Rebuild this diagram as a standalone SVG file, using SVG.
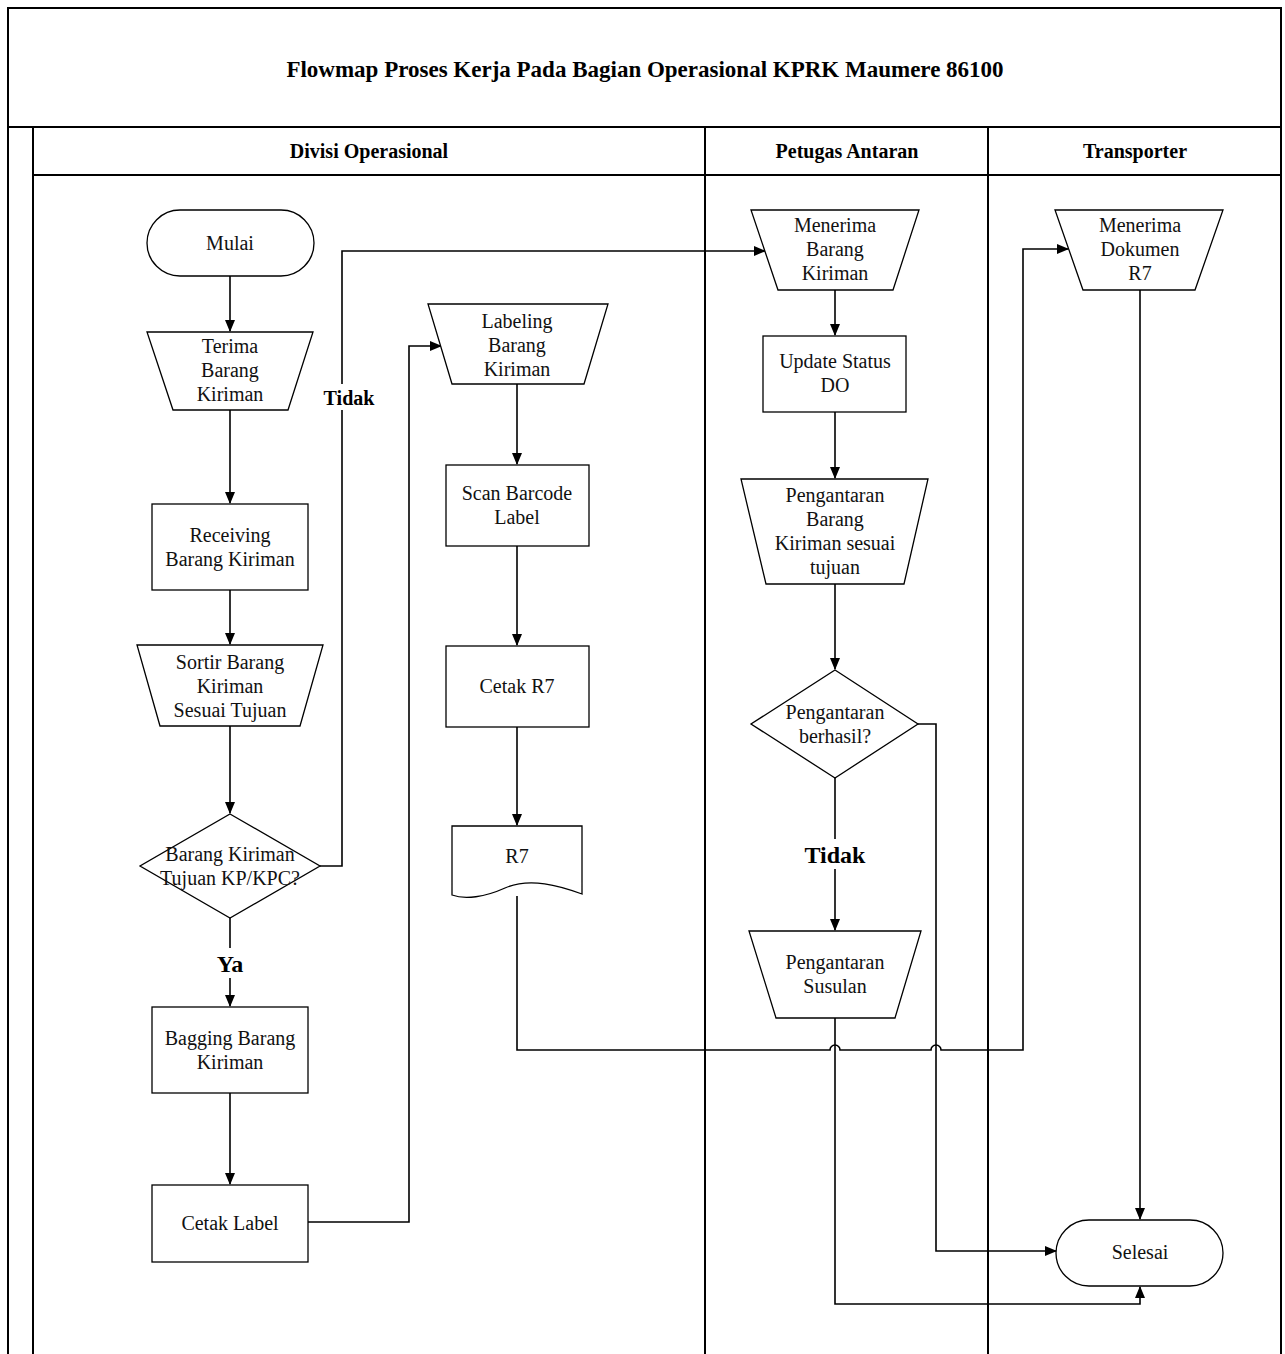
<svg xmlns="http://www.w3.org/2000/svg" width="1285" height="1354" viewBox="0 0 1285 1354">
<defs>
<marker id="arr" markerWidth="12" markerHeight="10" refX="11" refY="5" orient="auto" markerUnits="userSpaceOnUse">
<path d="M0,0 L12,5 L0,10 Z" fill="#000"/>
</marker>
<style>
.frame{fill:none;stroke:#000;stroke-width:2}
.shape{fill:#fff;stroke:#000;stroke-width:1.3}
.t{font-family:"Liberation Serif","Times New Roman",serif;font-size:20px;fill:#111;text-anchor:middle}
.b{font-family:"Liberation Serif","Times New Roman",serif;font-weight:bold;fill:#000;text-anchor:middle}
.c{fill:none;stroke:#000;stroke-width:1.6}
.bg{fill:#fff;stroke:none}
</style>
</defs>
<rect width="1285" height="1354" fill="#fff"/>
<g id="pool">
<path class="frame" d="M8,1360 V8 H1281 V1360"/>
<line class="frame" x1="8" y1="127" x2="1281" y2="127"/>
<line class="frame" x1="33" y1="127" x2="33" y2="1360"/>
<line class="frame" x1="33" y1="175" x2="1281" y2="175" stroke-width="1.5"/>
<line class="frame" x1="705" y1="127" x2="705" y2="1360"/>
<line class="frame" x1="988" y1="127" x2="988" y2="1360"/>
<text class="b" x="645" y="77" font-size="23">Flowmap Proses Kerja Pada Bagian Operasional KPRK Maumere 86100</text>
<text class="b" x="369" y="158" font-size="20">Divisi Operasional</text>
<text class="b" x="847" y="158" font-size="20">Petugas Antaran</text>
<text class="b" x="1135" y="158" font-size="20">Transporter</text>
</g>
<g id="connectors">
<line class="c" x1="230" y1="276" x2="230" y2="331" marker-end="url(#arr)"/>
<line class="c" x1="230" y1="410" x2="230" y2="503" marker-end="url(#arr)"/>
<line class="c" x1="230" y1="590" x2="230" y2="644" marker-end="url(#arr)"/>
<line class="c" x1="230" y1="726" x2="230" y2="813" marker-end="url(#arr)"/>
<line class="c" x1="230" y1="918" x2="230" y2="1006" marker-end="url(#arr)"/>
<line class="c" x1="230" y1="1093" x2="230" y2="1184" marker-end="url(#arr)"/>
<polyline class="c" points="320,866 342,866 342,251 765,251" marker-end="url(#arr)"/>
<polyline class="c" points="308,1222 409,1222 409,346 441,346" marker-end="url(#arr)"/>
<line class="c" x1="517" y1="384" x2="517" y2="464" marker-end="url(#arr)"/>
<line class="c" x1="517" y1="546" x2="517" y2="645" marker-end="url(#arr)"/>
<line class="c" x1="517" y1="727" x2="517" y2="825" marker-end="url(#arr)"/>
<path class="c" d="M517,896 V1050 H830 a5,5 0 0 1 10,0 H931 a5,5 0 0 1 10,0 H1023 V249 H1068" marker-end="url(#arr)"/>
<line class="c" x1="835" y1="290" x2="835" y2="335" marker-end="url(#arr)"/>
<line class="c" x1="835" y1="412" x2="835" y2="478" marker-end="url(#arr)"/>
<line class="c" x1="835" y1="584" x2="835" y2="669" marker-end="url(#arr)"/>
<line class="c" x1="835" y1="778" x2="835" y2="930" marker-end="url(#arr)"/>
<polyline class="c" points="918,724 936,724 936,1251 1056,1251" marker-end="url(#arr)"/>
<polyline class="c" points="835,1018 835,1304 1140,1304 1140,1287" marker-end="url(#arr)"/>
<line class="c" x1="1140" y1="290" x2="1140" y2="1219" marker-end="url(#arr)"/>
<rect class="bg" x="322" y="384" width="55" height="26"/>
<text class="b" x="349" y="405" font-size="20">Tidak</text>
<rect class="bg" x="214" y="948" width="32" height="30"/>
<text class="b" x="230" y="972" font-size="24">Ya</text>
<rect class="bg" x="803" y="839" width="64" height="30"/>
<text class="b" x="835" y="863" font-size="24">Tidak</text>
</g>
<g id="mulai">
<rect class="shape" x="147" y="210" width="167" height="66" rx="33"/>
<text class="t" x="230" y="250">Mulai</text>
</g>
<g id="terima">
<polygon class="shape" points="147,332 313,332 288,410 173,410"/>
<text class="t" x="230" y="353">Terima</text>
<text class="t" x="230" y="377">Barang</text>
<text class="t" x="230" y="401">Kiriman</text>
</g>
<g id="receiving">
<rect class="shape" x="152" y="504" width="156" height="86"/>
<text class="t" x="230" y="542">Receiving</text>
<text class="t" x="230" y="566">Barang Kiriman</text>
</g>
<g id="sortir">
<polygon class="shape" points="137,645 323,645 300,726 160,726"/>
<text class="t" x="230" y="669">Sortir Barang</text>
<text class="t" x="230" y="693">Kiriman</text>
<text class="t" x="230" y="717">Sesuai Tujuan</text>
</g>
<g id="decision1">
<polygon class="shape" points="230,814 320,866 230,918 140,866"/>
<text class="t" x="230" y="861">Barang Kiriman</text>
<text class="t" x="230" y="885">Tujuan KP/KPC?</text>
</g>
<g id="bagging">
<rect class="shape" x="152" y="1007" width="156" height="86"/>
<text class="t" x="230" y="1045">Bagging Barang</text>
<text class="t" x="230" y="1069">Kiriman</text>
</g>
<g id="cetaklabel">
<rect class="shape" x="152" y="1185" width="156" height="77"/>
<text class="t" x="230" y="1230">Cetak Label</text>
</g>
<g id="labeling">
<polygon class="shape" points="428,304 608,304 584,384 452,384"/>
<text class="t" x="517" y="328">Labeling</text>
<text class="t" x="517" y="352">Barang</text>
<text class="t" x="517" y="376">Kiriman</text>
</g>
<g id="scan">
<rect class="shape" x="446" y="465" width="143" height="81"/>
<text class="t" x="517" y="500">Scan Barcode</text>
<text class="t" x="517" y="524">Label</text>
</g>
<g id="cetakr7">
<rect class="shape" x="446" y="646" width="143" height="81"/>
<text class="t" x="517" y="693">Cetak R7</text>
</g>
<g id="r7doc">
<path class="shape" d="M452,826 H582 V894 C560,886 530,877 505,888 C485,897 465,900 452,895 Z"/>
<text class="t" x="517" y="863">R7</text>
</g>
<g id="menerimabarang">
<polygon class="shape" points="751,210 919,210 893,290 778,290"/>
<text class="t" x="835" y="232">Menerima</text>
<text class="t" x="835" y="256">Barang</text>
<text class="t" x="835" y="280">Kiriman</text>
</g>
<g id="updatestatus">
<rect class="shape" x="763" y="336" width="143" height="76"/>
<text class="t" x="835" y="368">Update Status</text>
<text class="t" x="835" y="392">DO</text>
</g>
<g id="pengantaranbarang">
<polygon class="shape" points="741,479 928,479 904,584 766,584"/>
<text class="t" x="835" y="502">Pengantaran</text>
<text class="t" x="835" y="526">Barang</text>
<text class="t" x="835" y="550">Kiriman sesuai</text>
<text class="t" x="835" y="574">tujuan</text>
</g>
<g id="decision2">
<polygon class="shape" points="835,670 918,724 835,778 751,724"/>
<text class="t" x="835" y="719">Pengantaran</text>
<text class="t" x="835" y="743">berhasil?</text>
</g>
<g id="susulan">
<polygon class="shape" points="749,931 921,931 895,1018 776,1018"/>
<text class="t" x="835" y="969">Pengantaran</text>
<text class="t" x="835" y="993">Susulan</text>
</g>
<g id="menerimadokumen">
<polygon class="shape" points="1055,210 1223,210 1195,290 1083,290"/>
<text class="t" x="1140" y="232">Menerima</text>
<text class="t" x="1140" y="256">Dokumen</text>
<text class="t" x="1140" y="280">R7</text>
</g>
<g id="selesai">
<rect class="shape" x="1056" y="1220" width="167" height="66" rx="33"/>
<text class="t" x="1140" y="1259">Selesai</text>
</g>
</svg>
